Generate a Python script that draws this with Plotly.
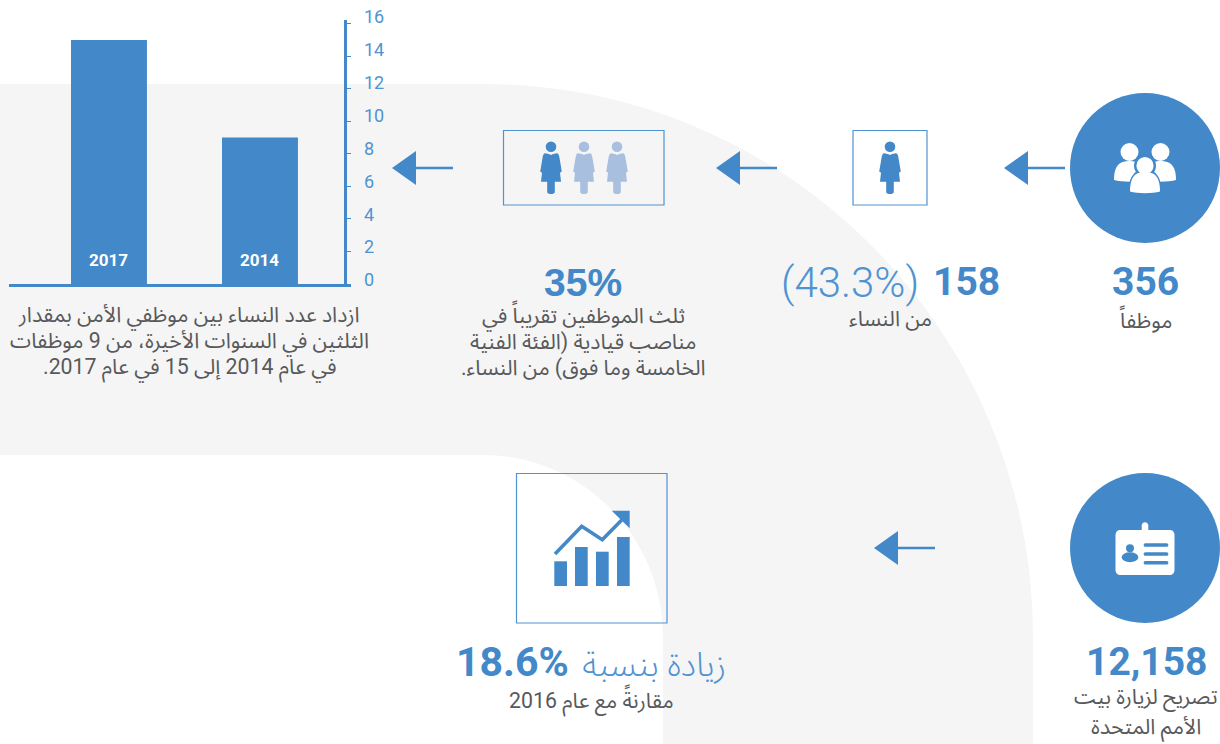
import plotly.graph_objects as go

W, H = 1220, 744
BLUE = "#4388c8"
LIGHT = "#a9bfe0"
GRAY = "#f5f5f5"
TEXT = "#58595b"
AR_FONT = "Roboto, Noto Sans Arabic, Noto Sans, DejaVu Sans, sans-serif"
NUM_FONT = "Roboto, sans-serif"

years = ["2017", "2014"]
women_staff = [15, 9]
y_ticks = [0, 2, 4, 6, 8, 10, 12, 14, 16]


def fx(x):
    return x / W


def fy(y):
    return 1 - y / H


def path(cmds):
    out = []
    for c in cmds:
        if isinstance(c, str):
            out.append(c)
        else:
            out.append(f"{fx(c[0]):.5f},{fy(c[1]):.5f}")
    return " ".join(out)


shapes = []


def add_path(cmds, fill=BLUE, line=None, lw=0, layer="above"):
    shapes.append(dict(type="path", xref="paper", yref="paper", path=path(cmds),
                       fillcolor=fill, line=dict(color=line or "rgba(0,0,0,0)", width=lw),
                       layer=layer))


def add_circle(cx, cy, rx, ry=None, fill=BLUE):
    ry = ry if ry is not None else rx
    shapes.append(dict(type="circle", xref="paper", yref="paper",
                       x0=fx(cx - rx), x1=fx(cx + rx), y0=fy(cy + ry), y1=fy(cy - ry),
                       fillcolor=fill, line=dict(width=0), layer="above"))


def add_rect(x0, y0, x1, y1, fill="rgba(0,0,0,0)", line=None, lw=0):
    shapes.append(dict(type="rect", xref="paper", yref="paper",
                       x0=fx(x0), x1=fx(x1), y0=fy(y1), y1=fy(y0),
                       fillcolor=fill, line=dict(color=line or "rgba(0,0,0,0)", width=lw),
                       layer="above"))


def add_line(pts, color=BLUE, lw=2):
    cmds = []
    for i, p in enumerate(pts):
        cmds += ["M" if i == 0 else "L", p]
    shapes.append(dict(type="path", xref="paper", yref="paper", path=path(cmds),
                       line=dict(color=color, width=lw), layer="above"))


# grey ring behind everything
k = 0.5523
cx, cy, Rx, Ry, rx, ry = 483, 637, 550, 553, 180, 182
add_path(["M", (0, 84), "L", (cx, 84),
          "C", (cx + k * Rx, 84), (cx + Rx, cy - k * Ry), (cx + Rx, cy),
          "L", (cx + Rx, H), "L", (cx + rx, H), "L", (cx + rx, cy),
          "C", (cx + rx, cy - k * ry), (cx + k * rx, cy - ry), (cx, cy - ry),
          "L", (0, cy - ry), "Z"], fill=GRAY, layer="below")


def arrow(tip, y):
    add_path(["M", (tip, y), "L", (tip + 24, y - 17), "L", (tip + 24, y + 17), "Z"])
    add_line([(tip + 20, y), (tip + 61, y)], lw=2.4)


for tip, y in [(1004, 168), (716, 168), (392, 168), (874, 548)]:
    arrow(tip, y)

BOX = "#4f93d2"
add_rect(853, 130.5, 927, 205, line=BOX, lw=1.2)
add_rect(503.5, 130.5, 664, 205, line=BOX, lw=1.2)
add_rect(516.5, 473.5, 667, 623, line=BOX, lw=1.2)

# baseline runs just past the value axis
add_rect(346, 284, 351, 287, fill=BLUE)


def woman(c, color):
    add_circle(c, 146.7, 5.3, fill=color)
    add_path(["M", (c - 5.5, 153.2), "L", (c - 1.5, 154.2), "L", (c, 155), "L", (c + 1.5, 154.2),
              "L", (c + 5.5, 153.2), "C", (c + 7.5, 153.2), (c + 8, 155), (c + 8.5, 158),
              "L", (c + 10.8, 171.5), "L", (c + 9, 172.8), "L", (c + 10, 181.7),
              "L", (c + 3.8, 181.7), "L", (c + 3.8, 192),
              "C", (c + 3.8, 194.8), (c - 3.8, 194.8), (c - 3.8, 192),
              "L", (c - 3.8, 181.7), "L", (c - 10, 181.7), "L", (c - 9, 172.8),
              "L", (c - 10.8, 171.5), "L", (c - 8.5, 158),
              "C", (c - 8, 155), (c - 7.5, 153.2), (c - 5.5, 153.2), "Z"], fill=color)


woman(551, BLUE)
woman(584, LIGHT)
woman(617, LIGHT)
woman(890, BLUE)

# circle 1: people
add_circle(1145, 168, 75)


def person(c, head_y, r, top, bottom, half, fill="#ffffff"):
    add_path(["M", (c - half, bottom - 1.5),
              "C", (c - half, top + 3), (c - half * 0.55, top), (c, top),
              "C", (c + half * 0.55, top), (c + half, top + 3), (c + half, bottom - 1.5),
              "C", (c + half * 0.5, bottom + 0.8), (c - half * 0.5, bottom + 0.8), (c - half, bottom - 1.5), "Z"],
             fill=fill)
    add_circle(c, head_y, r, fill=fill)


person(1129.5, 152, 9, 161, 181.5, 15.5)
person(1160.5, 152, 9, 161, 181.5, 15.5)
add_circle(1145, 165.7, 11, fill=BLUE)
add_path(["M", (1128, 195), "C", (1128, 174), (1137, 169), (1145, 169),
          "C", (1153, 169), (1162, 174), (1162, 195), "Z"])
person(1145, 165.7, 8.6, 172, 193, 15)

# circle 2: ID badge
add_circle(1145, 548, 75)
add_path(["M", (1120.5, 530), "L", (1169.5, 530),
          "C", (1172.5, 530), (1174.5, 532), (1174.5, 535),
          "L", (1174.5, 570), "C", (1174.5, 573), (1172.5, 575), (1169.5, 575),
          "L", (1120.5, 575), "C", (1117.5, 575), (1115.5, 573), (1115.5, 570),
          "L", (1115.5, 535), "C", (1115.5, 532), (1117.5, 530), (1120.5, 530), "Z"], fill="#ffffff")
add_path(["M", (1141.7, 531), "L", (1141.7, 525.5),
          "C", (1141.7, 521), (1148.3, 521), (1148.3, 525.5), "L", (1148.3, 531), "Z"], fill="#ffffff")
add_circle(1130, 548.3, 4)
add_circle(1130, 557.3, 8.3, 5)
for yy in (545, 554, 562.7):
    add_path(["M", (1145.5, yy - 1.8), "L", (1166.5, yy - 1.8),
              "C", (1169, yy - 1.8), (1169, yy + 1.8), (1166.5, yy + 1.8),
              "L", (1145.5, yy + 1.8), "C", (1143, yy + 1.8), (1143, yy - 1.8), (1145.5, yy - 1.8), "Z"])

# growth icon
add_rect(554.3, 561.3, 567, 586, fill=BLUE)
add_rect(575, 547, 587.7, 586, fill=BLUE)
add_rect(596, 551.7, 608.7, 586, fill=BLUE)
add_rect(617, 537, 629.7, 586, fill=BLUE)
add_line([(555, 554), (581.7, 526.3), (602.3, 539.7), (621.7, 520)], lw=3.6)
add_path(["M", (611.7, 510.7), "L", (629.7, 510.7), "L", (629.7, 528.3), "Z"])

ann = []


def label(text, x, y, size, color=TEXT, font=AR_FONT, weight=None, rtl=False):
    if rtl:
        text = "\u202b" + text + "\u202c"
    ann.append(dict(text=text, x=fx(x), y=fy(y), xref="paper", yref="paper",
                    xanchor="center", yanchor="middle", showarrow=False,
                    font=dict(size=size, color=color, family=font, weight=weight)))


BODY = 21.3
for t, yy in [("ازداد عدد النساء بين موظفي الأمن بمقدار", 316),
              ("الثلثين في السنوات الأخيرة، من 9 موظفات", 342),
              ("في عام 2014 إلى 15 في عام 2017.", 368)]:
    label(t, 189, yy, BODY, rtl=True)
for t, yy in [("ثلث الموظفين تقريباً في", 316),
              ("مناصب قيادية (الفئة الفنية", 342),
              ("الخامسة وما فوق) من النساء.", 368)]:
    label(t, 583, yy, BODY, rtl=True)
label("من النساء", 890, 319, BODY, rtl=True)
label("موظفاً", 1145, 319, BODY, rtl=True)
label("تصريح لزيارة بيت", 1146, 698, BODY, rtl=True)
label("الأمم المتحدة", 1146, 728, BODY, rtl=True)
label("مقارنةً مع عام 2016", 591, 700, BODY, rtl=True)
label("زيادة بنسبة", 654, 664, 34, color=BOX, weight=300, rtl=True)

label("356", 1145, 282, 39, BLUE, NUM_FONT, 700)
label("35%", 583, 282, 39, BLUE, "Liberation Sans, Arial, sans-serif", 700)
label("158", 966, 282, 39, BLUE, NUM_FONT, 700)
label("(43.3%)", 850, 282, 42, BOX, "Roboto Light, Roboto, sans-serif", 300)
label("12,158", 1146, 662, 39, BLUE, NUM_FONT, 700)
label("18.6%", 512, 662, 41, BLUE, NUM_FONT, 700)

# bar year labels sit on the bars, in data coordinates
for i, yr in enumerate(years):
    ann.append(dict(text=yr, x=i, y=1.5, xref="x", yref="y", showarrow=False,
                    font=dict(size=17, color="#ffffff", family=NUM_FONT, weight=700)))

fig = go.Figure()
fig.add_trace(go.Bar(x=years, y=women_staff, marker=dict(color=BLUE, line=dict(width=0)),
                     width=0.503, hoverinfo="skip"))
# carries the offset tick-label axis
fig.add_trace(go.Scatter(x=years, y=women_staff, yaxis="y2", mode="none", hoverinfo="skip"))

fig.update_layout(
    width=W, height=H, margin=dict(l=0, r=0, t=0, b=0, pad=0, autoexpand=False),
    autosize=False,
    paper_bgcolor="#ffffff", plot_bgcolor="rgba(0,0,0,0)",
    showlegend=False, shapes=shapes, annotations=ann,
    xaxis=dict(type="category", categoryorder="array", categoryarray=years,
               domain=[fx(9), fx(344.3)], range=[-0.662, 1.5585], anchor="y", automargin=False,
               showgrid=False, zeroline=False, showticklabels=False, ticks="",
               showline=True, linecolor=BLUE, linewidth=3, fixedrange=True),
    yaxis=dict(domain=[fy(284), fy(19.6)], range=[0, 16.25], anchor="x", side="right",
               automargin=False,
               tickvals=y_ticks, showticklabels=False, ticks="outside", ticklen=4,
               tickcolor=BLUE, tickwidth=1, showgrid=False, zeroline=False,
               showline=True, linecolor=BLUE, linewidth=3, fixedrange=True),
    yaxis2=dict(domain=[fy(280), fy(17)], range=[0, 16], anchor="free", automargin=False,
                position=fx(363), side="right", tickvals=y_ticks, ticks="",
                tickfont=dict(size=18, color=BOX, family=NUM_FONT),
                showline=False, showgrid=False, zeroline=False, fixedrange=True),
)

fig.write_html("out.html", config={"displayModeBar": False},
               post_script="document.body.style.margin='0';document.documentElement.style.overflow='hidden';")
